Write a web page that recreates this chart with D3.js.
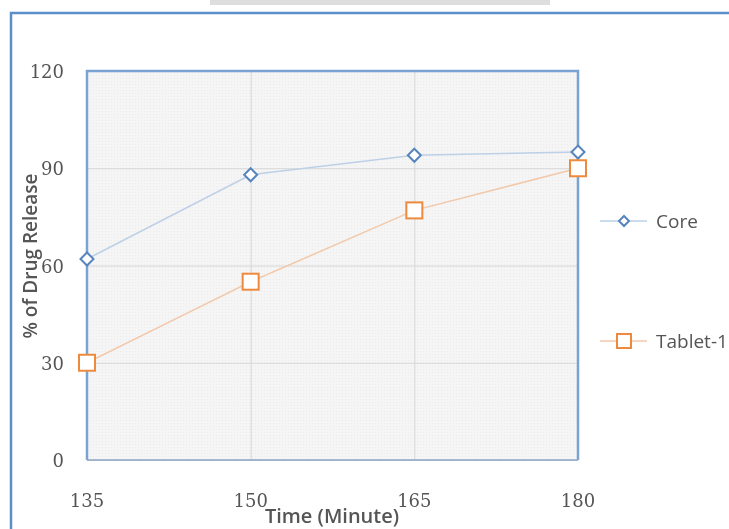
<!DOCTYPE html>
<html>
<head>
<meta charset="utf-8">
<script src="https://cdn.jsdelivr.net/npm/d3@7"></script>
<style>
  html, body { margin: 0; padding: 0; background: #fff; }
  svg { display: block; }
</style>
</head>
<body>
<svg id="chart" width="729" height="529"></svg>
<script>
// Dissolution profile data
const times = [135, 150, 165, 180];
const coreRelease = [62, 88, 94, 95];
const tabletRelease = [30, 55, 77, 90];
const yTicks = [0, 30, 60, 90, 120];
const seriesNames = ["Core", "Tablet-1"];

const svg = d3.select("#chart");
const W = 729, H = 529;
const plot = { left: 87, right: 578, top: 71, bottom: 460 };

const x = d3.scaleLinear().domain([135, 180]).range([plot.left, plot.right]);
const y = d3.scaleLinear().domain([0, 120]).range([plot.bottom, plot.top]);

// Patterned plot background
const defs = svg.append("defs");
const pat = defs.append("pattern")
  .attr("id", "dots").attr("width", 3).attr("height", 3)
  .attr("patternUnits", "userSpaceOnUse");
pat.append("rect").attr("width", 3).attr("height", 3).attr("fill", "#f5f5f5");
pat.append("rect").attr("width", 1).attr("height", 1).attr("fill", "#ebebeb");
defs.append("filter").attr("id", "soft")
  .append("feGaussianBlur").attr("stdDeviation", 0.45);

// Top grey strip
svg.append("rect").attr("x", 210).attr("y", 0).attr("width", 340).attr("height", 5)
  .attr("fill", "#dedede");

// Outer chart frame (blue, opens to the right and bottom)
svg.append("path")
  .attr("d", `M${W + 2},13 L11,13 L11,${H + 2}`)
  .attr("fill", "none").attr("stroke", "#5b8ec9").attr("stroke-width", 2.5)
  .attr("filter", "url(#soft)");

const g = svg.append("g").attr("filter", "url(#soft)");

g.append("rect")
  .attr("x", plot.left).attr("y", plot.top)
  .attr("width", plot.right - plot.left).attr("height", plot.bottom - plot.top)
  .attr("fill", "url(#dots)");

// Grid lines
g.append("g")
  .attr("transform", `translate(${plot.left},0)`)
  .call(d3.axisLeft(y).tickValues(yTicks).tickSize(-(plot.right - plot.left)).tickFormat(""))
  .call(a => a.select(".domain").remove())
  .call(a => a.selectAll("line").attr("stroke", "#d6d6d6").attr("stroke-width", 1));

g.append("g")
  .attr("transform", `translate(0,${plot.bottom})`)
  .call(d3.axisBottom(x).tickValues(times).tickSize(-(plot.bottom - plot.top)).tickFormat(""))
  .call(a => a.select(".domain").remove())
  .call(a => a.selectAll("line").attr("stroke", "#d6d6d6").attr("stroke-width", 1));

// Plot area border
g.append("path")
  .attr("d", `M${plot.left},${plot.bottom} L${plot.left},${plot.top} L${plot.right},${plot.top} L${plot.right},${plot.bottom}`)
  .attr("fill", "none").attr("stroke", "#78a3d3").attr("stroke-width", 2.5);
g.append("line")
  .attr("x1", plot.left).attr("x2", plot.right).attr("y1", plot.bottom).attr("y2", plot.bottom)
  .attr("stroke", "#8ea6c4").attr("stroke-width", 1.5);

// Tick labels
const tickFont = "'DejaVu Serif', 'Liberation Serif', serif";
g.append("g").selectAll("text").data(yTicks).join("text")
  .attr("x", 64).attr("y", d => y(d) + 7)
  .attr("text-anchor", "end")
  .attr("font-family", tickFont).attr("font-size", 18).attr("fill", "#555")
  .text(d => d);

g.append("g").selectAll("text").data(times).join("text")
  .attr("x", d => x(d)).attr("y", 507)
  .attr("text-anchor", "middle")
  .attr("font-family", tickFont).attr("font-size", 18).attr("fill", "#555")
  .text(d => d);

// Axis titles
const titleFont = "'Open Sans', 'DejaVu Sans', sans-serif";
g.append("text")
  .attr("transform", `translate(37,256) rotate(-90)`)
  .attr("text-anchor", "middle")
  .attr("font-family", titleFont).attr("font-size", 19).attr("font-weight", 600)
  .attr("fill", "#555")
  .text("% of Drug Release");

g.append("text")
  .attr("x", 332).attr("y", 523)
  .attr("text-anchor", "middle")
  .attr("font-family", titleFont).attr("font-size", 20).attr("font-weight", 600)
  .attr("fill", "#555")
  .text("Time (Minute)");

// Series
const series = [
  { name: seriesNames[0], values: coreRelease, line: "#bdd0e6", stroke: "#5685bd", shape: "diamond" },
  { name: seriesNames[1], values: tabletRelease, line: "#f2c9ab", stroke: "#ee8a3e", shape: "square" }
];

const lineGen = d3.line().x((d, i) => x(times[i])).y(d => y(d));

function marker(sel, s, size) {
  if (s.shape === "diamond") {
    sel.append("path")
      .attr("d", `M0,${-size} L${size},0 L0,${size} L${-size},0 Z`)
      .attr("fill", "#fff").attr("stroke", s.stroke).attr("stroke-width", 2);
  } else {
    sel.append("rect")
      .attr("x", -size).attr("y", -size).attr("width", 2 * size).attr("height", 2 * size)
      .attr("fill", "#fff").attr("stroke", s.stroke).attr("stroke-width", 2);
  }
}

series.forEach(s => {
  g.append("path")
    .attr("d", lineGen(s.values))
    .attr("fill", "none").attr("stroke", s.line).attr("stroke-width", 1.5);
  s.values.forEach((v, i) => {
    const m = g.append("g").attr("transform", `translate(${x(times[i])},${y(v)})`);
    marker(m, s, s.shape === "diamond" ? 6.5 : 8);
  });
});

// Legend
const legendY = [221, 341];
series.forEach((s, i) => {
  const lg = g.append("g").attr("transform", `translate(0,${legendY[i]})`);
  lg.append("line").attr("x1", 600).attr("x2", 647).attr("y1", 0).attr("y2", 0)
    .attr("stroke", s.line).attr("stroke-width", 1.5);
  const m = lg.append("g").attr("transform", "translate(624,0)");
  marker(m, s, s.shape === "diamond" ? 5 : 7);
  lg.append("text").attr("x", 656).attr("y", 7)
    .attr("font-family", titleFont).attr("font-size", 19).attr("fill", "#555")
    .text(s.name);
});
</script>
</body>
</html>
